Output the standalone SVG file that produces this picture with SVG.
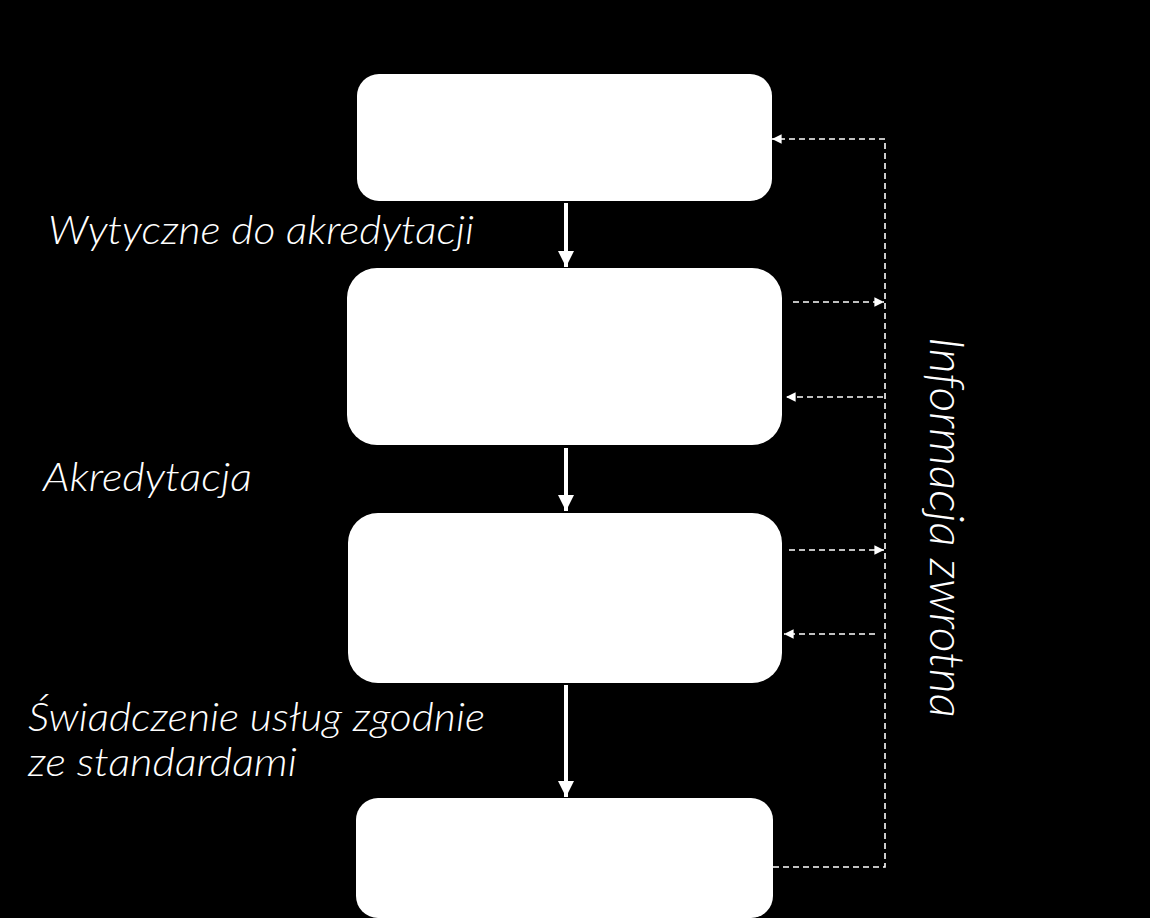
<svg xmlns="http://www.w3.org/2000/svg" width="1150" height="918" viewBox="0 0 1150 918">
<style>
.box{fill:#fff;stroke:none}
.solid{stroke:#fff;stroke-width:4;fill:none}
.dash{stroke:#fff;stroke-width:1.6;fill:none;stroke-dasharray:6 4}
.lbl{font-family:Lato,"Open Sans","Liberation Sans",sans-serif;font-style:italic;font-weight:300;fill:#fff;font-size:39px}
</style>
<defs>
<marker id="big" viewBox="0 0 10 10" refX="10" refY="5" markerWidth="4" markerHeight="4" markerUnits="strokeWidth" orient="auto"><path d="M0,0 L10,5 L0,10 Z" fill="#fff"/></marker>
<marker id="small" viewBox="0 0 10 10" refX="10" refY="5" markerWidth="6" markerHeight="6" markerUnits="strokeWidth" orient="auto"><path d="M0,0 L10,5 L0,10 Z" fill="#fff"/></marker>
</defs>
<rect width="1150" height="918" fill="#000"/>
<g id="node1"><rect class="box" x="357" y="74" width="415" height="127" rx="22"/></g>
<g id="node2"><rect class="box" x="347" y="268" width="435" height="177" rx="30"/></g>
<g id="node3"><rect class="box" x="348" y="513" width="434" height="170" rx="30"/></g>
<g id="node4"><rect class="box" x="356" y="798" width="417" height="120" rx="22"/></g>
<g id="connectors">
<line class="solid" x1="566" y1="203" x2="566" y2="267" marker-end="url(#big)"/>
<line class="solid" x1="566" y1="448" x2="566" y2="511" marker-end="url(#big)"/>
<line class="solid" x1="566" y1="685" x2="566" y2="797" marker-end="url(#big)"/>
<polyline class="dash" points="773,867 885,867 885,139"/>
<line class="dash" x1="885" y1="139" x2="772" y2="139" marker-end="url(#small)"/>
<line class="dash" x1="793" y1="302" x2="884" y2="302" marker-end="url(#small)"/>
<line class="dash" x1="883" y1="397" x2="786" y2="397" marker-end="url(#small)"/>
<line class="dash" x1="789" y1="550" x2="884" y2="550" marker-end="url(#small)"/>
<line class="dash" x1="875" y1="634" x2="784" y2="634" marker-end="url(#small)"/>
</g>
<g id="labels">
<text class="lbl" x="48" y="244" textLength="426" lengthAdjust="spacingAndGlyphs">Wytyczne do akredytacji</text>
<text class="lbl" x="43" y="491" textLength="209" lengthAdjust="spacingAndGlyphs">Akredytacja</text>
<text class="lbl" x="28" y="731" textLength="457" lengthAdjust="spacingAndGlyphs">Świadczenie usług zgodnie</text>
<text class="lbl" x="28" y="776" textLength="269" lengthAdjust="spacingAndGlyphs">ze standardami</text>
<text class="lbl" style="font-size:47px" transform="translate(930,337) rotate(90)" textLength="381" lengthAdjust="spacingAndGlyphs">Informacja zwrotna</text>
</g>
</svg>
